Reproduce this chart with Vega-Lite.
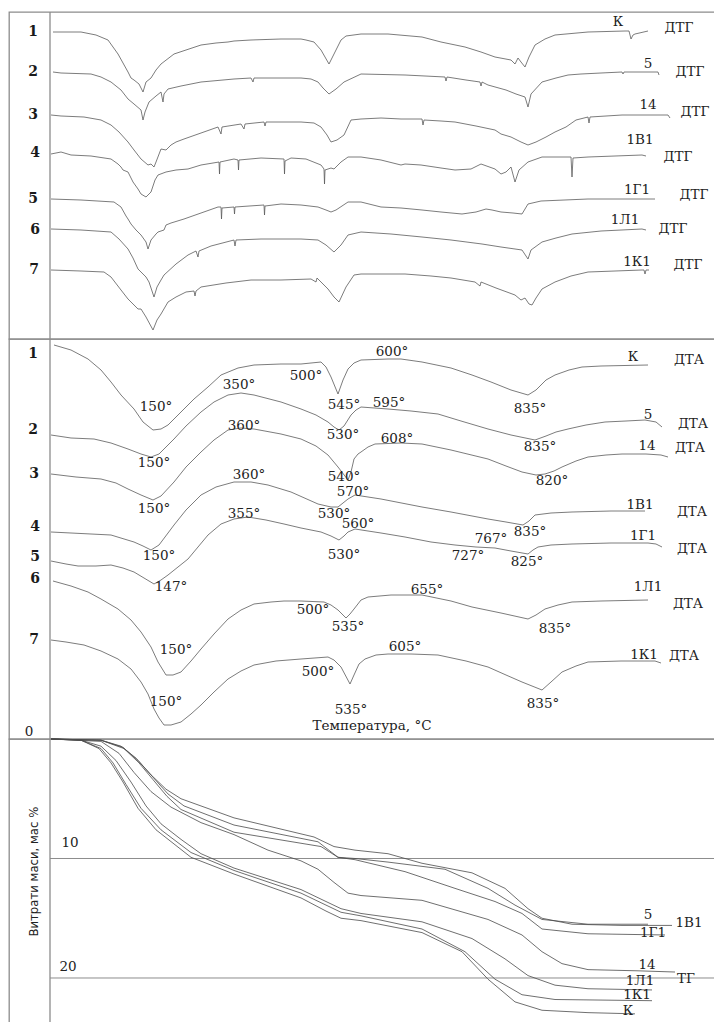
{
  "$schema": "https://vega.github.io/schema/vega-lite/v6.json",
  "padding": {"left": 8, "top": 10, "right": 0, "bottom": 0},
  "spacing": 0,
  "bounds": "flush",
  "background": "white",
  "config": {"view": {"stroke": "#8c8c8c", "strokeWidth": 1.3}},
  "datasets": {
    "dtg": [
      {"s":"1","x":52,"y":30},{"s":"1","x":80,"y":30},{"s":"1","x":95,"y":33},{"s":"1","x":107,"y":38},{"s":"1","x":117,"y":52},{"s":"1","x":127,"y":70},{"s":"1","x":130,"y":76},{"s":"1","x":133,"y":78},{"s":"1","x":138,"y":82},{"s":"1","x":142,"y":90},{"s":"1","x":145,"y":80},{"s":"1","x":150,"y":76},{"s":"1","x":155,"y":68},{"s":"1","x":160,"y":62},{"s":"1","x":173,"y":52},{"s":"1","x":185,"y":48},{"s":"1","x":200,"y":43},{"s":"1","x":215,"y":41},{"s":"1","x":227,"y":40},{"s":"1","x":233,"y":39},{"s":"1","x":250,"y":38},{"s":"1","x":280,"y":37},{"s":"1","x":300,"y":37},{"s":"1","x":305,"y":38},{"s":"1","x":313,"y":40},{"s":"1","x":320,"y":48},{"s":"1","x":328,"y":62},{"s":"1","x":333,"y":52},{"s":"1","x":340,"y":38},{"s":"1","x":345,"y":34},{"s":"1","x":360,"y":32},{"s":"1","x":387,"y":32},{"s":"1","x":421,"y":35},{"s":"1","x":440,"y":40},{"s":"1","x":464,"y":45},{"s":"1","x":480,"y":50},{"s":"1","x":494,"y":55},{"s":"1","x":510,"y":58},{"s":"1","x":514,"y":62},{"s":"1","x":517,"y":56},{"s":"1","x":520,"y":60},{"s":"1","x":524,"y":65},{"s":"1","x":528,"y":55},{"s":"1","x":534,"y":43},{"s":"1","x":544,"y":37},{"s":"1","x":554,"y":33},{"s":"1","x":587,"y":30},{"s":"1","x":624,"y":29},{"s":"1","x":628,"y":29},{"s":"1","x":630,"y":37},{"s":"1","x":632,"y":33},{"s":"1","x":634,"y":32},{"s":"1","x":647,"y":29},
      {"s":"2","x":52,"y":70},{"s":"2","x":60,"y":71},{"s":"2","x":90,"y":72},{"s":"2","x":100,"y":75},{"s":"2","x":110,"y":80},{"s":"2","x":120,"y":88},{"s":"2","x":127,"y":97},{"s":"2","x":133,"y":102},{"s":"2","x":140,"y":108},{"s":"2","x":142,"y":118},{"s":"2","x":144,"y":110},{"s":"2","x":148,"y":100},{"s":"2","x":155,"y":94},{"s":"2","x":160,"y":90},{"s":"2","x":162,"y":100},{"s":"2","x":163,"y":92},{"s":"2","x":167,"y":87},{"s":"2","x":180,"y":84},{"s":"2","x":200,"y":80},{"s":"2","x":233,"y":77},{"s":"2","x":250,"y":76},{"s":"2","x":252,"y":80},{"s":"2","x":253,"y":76},{"s":"2","x":300,"y":76},{"s":"2","x":310,"y":77},{"s":"2","x":317,"y":80},{"s":"2","x":322,"y":86},{"s":"2","x":328,"y":92},{"s":"2","x":335,"y":87},{"s":"2","x":343,"y":80},{"s":"2","x":360,"y":72},{"s":"2","x":404,"y":73},{"s":"2","x":444,"y":75},{"s":"2","x":445,"y":79},{"s":"2","x":446,"y":75},{"s":"2","x":465,"y":78},{"s":"2","x":479,"y":80},{"s":"2","x":480,"y":84},{"s":"2","x":481,"y":80},{"s":"2","x":487,"y":83},{"s":"2","x":505,"y":88},{"s":"2","x":515,"y":92},{"s":"2","x":524,"y":95},{"s":"2","x":527,"y":105},{"s":"2","x":530,"y":92},{"s":"2","x":541,"y":80},{"s":"2","x":555,"y":76},{"s":"2","x":567,"y":73},{"s":"2","x":580,"y":72},{"s":"2","x":600,"y":71},{"s":"2","x":621,"y":70},{"s":"2","x":622,"y":72},{"s":"2","x":623,"y":70},{"s":"2","x":657,"y":70},{"s":"2","x":658,"y":73},
      {"s":"3","x":50,"y":113},{"s":"3","x":60,"y":114},{"s":"3","x":83,"y":115},{"s":"3","x":100,"y":118},{"s":"3","x":110,"y":123},{"s":"3","x":118,"y":130},{"s":"3","x":127,"y":140},{"s":"3","x":133,"y":148},{"s":"3","x":140,"y":157},{"s":"3","x":147,"y":163},{"s":"3","x":150,"y":162},{"s":"3","x":153,"y":165},{"s":"3","x":155,"y":160},{"s":"3","x":160,"y":147},{"s":"3","x":165,"y":148},{"s":"3","x":170,"y":143},{"s":"3","x":175,"y":140},{"s":"3","x":183,"y":137},{"s":"3","x":200,"y":131},{"s":"3","x":217,"y":125},{"s":"3","x":220,"y":132},{"s":"3","x":221,"y":125},{"s":"3","x":240,"y":122},{"s":"3","x":243,"y":127},{"s":"3","x":244,"y":122},{"s":"3","x":263,"y":120},{"s":"3","x":264,"y":124},{"s":"3","x":265,"y":120},{"s":"3","x":300,"y":120},{"s":"3","x":313,"y":121},{"s":"3","x":320,"y":125},{"s":"3","x":326,"y":133},{"s":"3","x":330,"y":140},{"s":"3","x":336,"y":138},{"s":"3","x":343,"y":133},{"s":"3","x":350,"y":118},{"s":"3","x":360,"y":117},{"s":"3","x":380,"y":116},{"s":"3","x":400,"y":117},{"s":"3","x":421,"y":117},{"s":"3","x":422,"y":123},{"s":"3","x":423,"y":118},{"s":"3","x":440,"y":119},{"s":"3","x":454,"y":120},{"s":"3","x":475,"y":124},{"s":"3","x":494,"y":128},{"s":"3","x":500,"y":132},{"s":"3","x":510,"y":135},{"s":"3","x":520,"y":140},{"s":"3","x":527,"y":143},{"s":"3","x":535,"y":140},{"s":"3","x":545,"y":135},{"s":"3","x":554,"y":130},{"s":"3","x":565,"y":125},{"s":"3","x":575,"y":118},{"s":"3","x":587,"y":115},{"s":"3","x":588,"y":121},{"s":"3","x":589,"y":115},{"s":"3","x":621,"y":113},{"s":"3","x":667,"y":113},{"s":"3","x":669,"y":116},
      {"s":"4","x":50,"y":152},{"s":"4","x":60,"y":150},{"s":"4","x":70,"y":153},{"s":"4","x":90,"y":154},{"s":"4","x":110,"y":157},{"s":"4","x":117,"y":162},{"s":"4","x":120,"y":165},{"s":"4","x":122,"y":168},{"s":"4","x":127,"y":170},{"s":"4","x":132,"y":180},{"s":"4","x":137,"y":187},{"s":"4","x":140,"y":192},{"s":"4","x":145,"y":195},{"s":"4","x":148,"y":192},{"s":"4","x":150,"y":190},{"s":"4","x":154,"y":178},{"s":"4","x":157,"y":173},{"s":"4","x":165,"y":170},{"s":"4","x":175,"y":168},{"s":"4","x":187,"y":167},{"s":"4","x":200,"y":163},{"s":"4","x":218,"y":160},{"s":"4","x":218.5,"y":172},{"s":"4","x":219,"y":160},{"s":"4","x":233,"y":157},{"s":"4","x":237,"y":158},{"s":"4","x":237.5,"y":168},{"s":"4","x":238,"y":158},{"s":"4","x":260,"y":156},{"s":"4","x":283,"y":157},{"s":"4","x":283.5,"y":172},{"s":"4","x":284,"y":159},{"s":"4","x":290,"y":156},{"s":"4","x":305,"y":157},{"s":"4","x":320,"y":163},{"s":"4","x":323,"y":167},{"s":"4","x":323.5,"y":182},{"s":"4","x":324,"y":168},{"s":"4","x":330,"y":166},{"s":"4","x":333,"y":167},{"s":"4","x":340,"y":160},{"s":"4","x":347,"y":155},{"s":"4","x":360,"y":155},{"s":"4","x":380,"y":158},{"s":"4","x":400,"y":163},{"s":"4","x":404,"y":162},{"s":"4","x":420,"y":163},{"s":"4","x":440,"y":166},{"s":"4","x":454,"y":168},{"s":"4","x":470,"y":167},{"s":"4","x":480,"y":162},{"s":"4","x":494,"y":167},{"s":"4","x":500,"y":172},{"s":"4","x":505,"y":170},{"s":"4","x":510,"y":165},{"s":"4","x":514,"y":180},{"s":"4","x":518,"y":168},{"s":"4","x":527,"y":160},{"s":"4","x":541,"y":155},{"s":"4","x":570,"y":155},{"s":"4","x":571,"y":175},{"s":"4","x":572,"y":156},{"s":"4","x":587,"y":155},{"s":"4","x":641,"y":153},{"s":"4","x":645,"y":154},
      {"s":"5","x":50,"y":197},{"s":"5","x":80,"y":198},{"s":"5","x":113,"y":200},{"s":"5","x":120,"y":205},{"s":"5","x":125,"y":214},{"s":"5","x":127,"y":217},{"s":"5","x":130,"y":222},{"s":"5","x":135,"y":228},{"s":"5","x":140,"y":233},{"s":"5","x":145,"y":240},{"s":"5","x":147,"y":247},{"s":"5","x":150,"y":238},{"s":"5","x":155,"y":232},{"s":"5","x":157,"y":230},{"s":"5","x":163,"y":228},{"s":"5","x":165,"y":223},{"s":"5","x":170,"y":221},{"s":"5","x":183,"y":217},{"s":"5","x":200,"y":211},{"s":"5","x":217,"y":205},{"s":"5","x":220,"y":205},{"s":"5","x":220.5,"y":217},{"s":"5","x":221,"y":206},{"s":"5","x":233,"y":205},{"s":"5","x":233.5,"y":212},{"s":"5","x":234,"y":205},{"s":"5","x":263,"y":203},{"s":"5","x":263.5,"y":213},{"s":"5","x":264,"y":204},{"s":"5","x":280,"y":202},{"s":"5","x":300,"y":203},{"s":"5","x":317,"y":205},{"s":"5","x":325,"y":208},{"s":"5","x":330,"y":210},{"s":"5","x":335,"y":208},{"s":"5","x":347,"y":200},{"s":"5","x":360,"y":200},{"s":"5","x":380,"y":205},{"s":"5","x":400,"y":206},{"s":"5","x":421,"y":208},{"s":"5","x":440,"y":210},{"s":"5","x":461,"y":212},{"s":"5","x":475,"y":210},{"s":"5","x":485,"y":207},{"s":"5","x":491,"y":208},{"s":"5","x":500,"y":210},{"s":"5","x":512,"y":211},{"s":"5","x":521,"y":212},{"s":"5","x":527,"y":202},{"s":"5","x":540,"y":199},{"s":"5","x":587,"y":197},{"s":"5","x":654,"y":197},
      {"s":"6","x":50,"y":227},{"s":"6","x":80,"y":228},{"s":"6","x":110,"y":230},{"s":"6","x":118,"y":237},{"s":"6","x":127,"y":247},{"s":"6","x":132,"y":256},{"s":"6","x":137,"y":267},{"s":"6","x":140,"y":270},{"s":"6","x":145,"y":275},{"s":"6","x":148,"y":280},{"s":"6","x":153,"y":295},{"s":"6","x":156,"y":285},{"s":"6","x":160,"y":278},{"s":"6","x":163,"y":273},{"s":"6","x":175,"y":262},{"s":"6","x":187,"y":253},{"s":"6","x":195,"y":249},{"s":"6","x":197,"y":255},{"s":"6","x":198,"y":249},{"s":"6","x":210,"y":244},{"s":"6","x":233,"y":238},{"s":"6","x":234,"y":244},{"s":"6","x":235,"y":238},{"s":"6","x":260,"y":237},{"s":"6","x":283,"y":237},{"s":"6","x":300,"y":237},{"s":"6","x":317,"y":238},{"s":"6","x":325,"y":243},{"s":"6","x":333,"y":250},{"s":"6","x":340,"y":243},{"s":"6","x":347,"y":233},{"s":"6","x":360,"y":230},{"s":"6","x":390,"y":232},{"s":"6","x":421,"y":235},{"s":"6","x":450,"y":238},{"s":"6","x":481,"y":242},{"s":"6","x":500,"y":245},{"s":"6","x":521,"y":248},{"s":"6","x":527,"y":257},{"s":"6","x":530,"y":248},{"s":"6","x":541,"y":240},{"s":"6","x":555,"y":236},{"s":"6","x":571,"y":232},{"s":"6","x":600,"y":229},{"s":"6","x":641,"y":227},{"s":"6","x":645,"y":228},
      {"s":"7","x":50,"y":268},{"s":"7","x":80,"y":269},{"s":"7","x":103,"y":270},{"s":"7","x":110,"y":275},{"s":"7","x":120,"y":288},{"s":"7","x":127,"y":297},{"s":"7","x":137,"y":307},{"s":"7","x":140,"y":307},{"s":"7","x":145,"y":315},{"s":"7","x":152,"y":328},{"s":"7","x":156,"y":318},{"s":"7","x":160,"y":312},{"s":"7","x":167,"y":300},{"s":"7","x":175,"y":295},{"s":"7","x":185,"y":290},{"s":"7","x":193,"y":289},{"s":"7","x":194,"y":294},{"s":"7","x":195,"y":289},{"s":"7","x":200,"y":285},{"s":"7","x":225,"y":281},{"s":"7","x":250,"y":278},{"s":"7","x":280,"y":278},{"s":"7","x":310,"y":277},{"s":"7","x":315,"y":280},{"s":"7","x":316,"y":276},{"s":"7","x":320,"y":280},{"s":"7","x":327,"y":287},{"s":"7","x":333,"y":295},{"s":"7","x":338,"y":300},{"s":"7","x":345,"y":285},{"s":"7","x":353,"y":273},{"s":"7","x":360,"y":272},{"s":"7","x":404,"y":272},{"s":"7","x":430,"y":274},{"s":"7","x":450,"y":276},{"s":"7","x":474,"y":280},{"s":"7","x":479,"y":284},{"s":"7","x":480,"y":280},{"s":"7","x":495,"y":286},{"s":"7","x":514,"y":293},{"s":"7","x":520,"y":298},{"s":"7","x":524,"y":296},{"s":"7","x":528,"y":302},{"s":"7","x":531,"y":303},{"s":"7","x":535,"y":296},{"s":"7","x":541,"y":287},{"s":"7","x":554,"y":280},{"s":"7","x":570,"y":274},{"s":"7","x":587,"y":270},{"s":"7","x":641,"y":268},{"s":"7","x":643,"y":268},{"s":"7","x":644,"y":272},{"s":"7","x":645,"y":268},{"s":"7","x":648,"y":268}
    ],
    "dta": [
      {"s":"1","x":53,"y":343},{"s":"1","x":70,"y":348},{"s":"1","x":87,"y":357},{"s":"1","x":100,"y":368},{"s":"1","x":110,"y":380},{"s":"1","x":120,"y":393},{"s":"1","x":133,"y":407},{"s":"1","x":142,"y":420},{"s":"1","x":152,"y":428},{"s":"1","x":160,"y":427},{"s":"1","x":167,"y":423},{"s":"1","x":180,"y":410},{"s":"1","x":193,"y":397},{"s":"1","x":207,"y":385},{"s":"1","x":220,"y":373},{"s":"1","x":237,"y":366},{"s":"1","x":253,"y":363},{"s":"1","x":280,"y":362},{"s":"1","x":300,"y":362},{"s":"1","x":320,"y":360},{"s":"1","x":325,"y":365},{"s":"1","x":330,"y":375},{"s":"1","x":337,"y":392},{"s":"1","x":342,"y":378},{"s":"1","x":347,"y":367},{"s":"1","x":353,"y":361},{"s":"1","x":360,"y":358},{"s":"1","x":387,"y":357},{"s":"1","x":400,"y":357},{"s":"1","x":421,"y":360},{"s":"1","x":450,"y":366},{"s":"1","x":471,"y":373},{"s":"1","x":490,"y":380},{"s":"1","x":510,"y":388},{"s":"1","x":527,"y":393},{"s":"1","x":535,"y":388},{"s":"1","x":545,"y":378},{"s":"1","x":554,"y":373},{"s":"1","x":568,"y":368},{"s":"1","x":581,"y":365},{"s":"1","x":600,"y":364},{"s":"1","x":647,"y":363},
      {"s":"2","x":50,"y":433},{"s":"2","x":70,"y":436},{"s":"2","x":93,"y":437},{"s":"2","x":110,"y":441},{"s":"2","x":127,"y":447},{"s":"2","x":140,"y":452},{"s":"2","x":150,"y":455},{"s":"2","x":158,"y":452},{"s":"2","x":165,"y":445},{"s":"2","x":173,"y":437},{"s":"2","x":185,"y":424},{"s":"2","x":200,"y":410},{"s":"2","x":213,"y":400},{"s":"2","x":227,"y":393},{"s":"2","x":240,"y":391},{"s":"2","x":253,"y":393},{"s":"2","x":280,"y":400},{"s":"2","x":300,"y":407},{"s":"2","x":315,"y":413},{"s":"2","x":327,"y":420},{"s":"2","x":333,"y":425},{"s":"2","x":338,"y":428},{"s":"2","x":343,"y":424},{"s":"2","x":350,"y":413},{"s":"2","x":355,"y":408},{"s":"2","x":360,"y":405},{"s":"2","x":387,"y":407},{"s":"2","x":410,"y":409},{"s":"2","x":437,"y":412},{"s":"2","x":460,"y":419},{"s":"2","x":487,"y":427},{"s":"2","x":510,"y":433},{"s":"2","x":534,"y":438},{"s":"2","x":545,"y":434},{"s":"2","x":555,"y":430},{"s":"2","x":567,"y":427},{"s":"2","x":585,"y":423},{"s":"2","x":604,"y":420},{"s":"2","x":625,"y":419},{"s":"2","x":644,"y":418},{"s":"2","x":655,"y":420},{"s":"2","x":661,"y":425},
      {"s":"3","x":50,"y":472},{"s":"3","x":75,"y":475},{"s":"3","x":100,"y":477},{"s":"3","x":115,"y":481},{"s":"3","x":127,"y":487},{"s":"3","x":140,"y":493},{"s":"3","x":152,"y":498},{"s":"3","x":160,"y":494},{"s":"3","x":173,"y":480},{"s":"3","x":185,"y":465},{"s":"3","x":200,"y":450},{"s":"3","x":213,"y":438},{"s":"3","x":227,"y":428},{"s":"3","x":240,"y":426},{"s":"3","x":253,"y":427},{"s":"3","x":280,"y":432},{"s":"3","x":300,"y":437},{"s":"3","x":315,"y":444},{"s":"3","x":327,"y":453},{"s":"3","x":337,"y":465},{"s":"3","x":347,"y":478},{"s":"3","x":350,"y":470},{"s":"3","x":353,"y":457},{"s":"3","x":357,"y":452},{"s":"3","x":360,"y":450},{"s":"3","x":367,"y":445},{"s":"3","x":374,"y":442},{"s":"3","x":400,"y":441},{"s":"3","x":421,"y":442},{"s":"3","x":450,"y":448},{"s":"3","x":487,"y":457},{"s":"3","x":505,"y":464},{"s":"3","x":521,"y":470},{"s":"3","x":535,"y":473},{"s":"3","x":544,"y":472},{"s":"3","x":553,"y":469},{"s":"3","x":561,"y":465},{"s":"3","x":575,"y":459},{"s":"3","x":587,"y":455},{"s":"3","x":605,"y":453},{"s":"3","x":621,"y":452},{"s":"3","x":645,"y":452},{"s":"3","x":660,"y":453},{"s":"3","x":667,"y":455},
      {"s":"4","x":50,"y":530},{"s":"4","x":70,"y":531},{"s":"4","x":90,"y":532},{"s":"4","x":110,"y":533},{"s":"4","x":133,"y":540},{"s":"4","x":142,"y":544},{"s":"4","x":150,"y":548},{"s":"4","x":158,"y":543},{"s":"4","x":173,"y":523},{"s":"4","x":185,"y":508},{"s":"4","x":200,"y":493},{"s":"4","x":215,"y":485},{"s":"4","x":233,"y":480},{"s":"4","x":250,"y":480},{"s":"4","x":267,"y":483},{"s":"4","x":290,"y":490},{"s":"4","x":317,"y":502},{"s":"4","x":330,"y":505},{"s":"4","x":337,"y":505},{"s":"4","x":342,"y":501},{"s":"4","x":347,"y":497},{"s":"4","x":354,"y":493},{"s":"4","x":380,"y":497},{"s":"4","x":421,"y":505},{"s":"4","x":450,"y":510},{"s":"4","x":487,"y":517},{"s":"4","x":505,"y":520},{"s":"4","x":522,"y":523},{"s":"4","x":528,"y":519},{"s":"4","x":534,"y":513},{"s":"4","x":550,"y":511},{"s":"4","x":571,"y":510},{"s":"4","x":610,"y":509},{"s":"4","x":644,"y":509},
      {"s":"5","x":50,"y":559},{"s":"5","x":65,"y":562},{"s":"5","x":77,"y":564},{"s":"5","x":95,"y":564},{"s":"5","x":110,"y":563},{"s":"5","x":122,"y":566},{"s":"5","x":133,"y":570},{"s":"5","x":143,"y":576},{"s":"5","x":153,"y":582},{"s":"5","x":160,"y":578},{"s":"5","x":167,"y":573},{"s":"5","x":177,"y":565},{"s":"5","x":187,"y":557},{"s":"5","x":197,"y":545},{"s":"5","x":207,"y":533},{"s":"5","x":220,"y":522},{"s":"5","x":233,"y":517},{"s":"5","x":247,"y":515},{"s":"5","x":265,"y":518},{"s":"5","x":283,"y":522},{"s":"5","x":300,"y":526},{"s":"5","x":320,"y":530},{"s":"5","x":330,"y":534},{"s":"5","x":338,"y":538},{"s":"5","x":343,"y":534},{"s":"5","x":347,"y":530},{"s":"5","x":354,"y":527},{"s":"5","x":380,"y":531},{"s":"5","x":404,"y":535},{"s":"5","x":430,"y":540},{"s":"5","x":454,"y":543},{"s":"5","x":475,"y":545},{"s":"5","x":494,"y":546},{"s":"5","x":510,"y":549},{"s":"5","x":527,"y":552},{"s":"5","x":532,"y":548},{"s":"5","x":537,"y":545},{"s":"5","x":550,"y":543},{"s":"5","x":571,"y":542},{"s":"5","x":610,"y":541},{"s":"5","x":647,"y":541},{"s":"5","x":655,"y":542},{"s":"5","x":661,"y":545},
      {"s":"6","x":52,"y":579},{"s":"6","x":70,"y":584},{"s":"6","x":87,"y":590},{"s":"6","x":100,"y":597},{"s":"6","x":117,"y":607},{"s":"6","x":130,"y":618},{"s":"6","x":140,"y":630},{"s":"6","x":150,"y":645},{"s":"6","x":157,"y":660},{"s":"6","x":165,"y":673},{"s":"6","x":172,"y":673},{"s":"6","x":180,"y":670},{"s":"6","x":190,"y":659},{"s":"6","x":200,"y":647},{"s":"6","x":213,"y":632},{"s":"6","x":227,"y":617},{"s":"6","x":240,"y":608},{"s":"6","x":253,"y":602},{"s":"6","x":270,"y":600},{"s":"6","x":283,"y":599},{"s":"6","x":300,"y":599},{"s":"6","x":323,"y":600},{"s":"6","x":330,"y":603},{"s":"6","x":337,"y":608},{"s":"6","x":345,"y":616},{"s":"6","x":349,"y":612},{"s":"6","x":353,"y":607},{"s":"6","x":360,"y":598},{"s":"6","x":367,"y":595},{"s":"6","x":390,"y":593},{"s":"6","x":421,"y":593},{"s":"6","x":450,"y":599},{"s":"6","x":471,"y":605},{"s":"6","x":500,"y":611},{"s":"6","x":527,"y":617},{"s":"6","x":535,"y":613},{"s":"6","x":544,"y":607},{"s":"6","x":557,"y":603},{"s":"6","x":571,"y":600},{"s":"6","x":600,"y":599},{"s":"6","x":647,"y":598},
      {"s":"7","x":50,"y":638},{"s":"7","x":65,"y":640},{"s":"7","x":83,"y":643},{"s":"7","x":100,"y":649},{"s":"7","x":117,"y":657},{"s":"7","x":130,"y":667},{"s":"7","x":140,"y":680},{"s":"7","x":147,"y":692},{"s":"7","x":153,"y":707},{"s":"7","x":158,"y":716},{"s":"7","x":163,"y":723},{"s":"7","x":170,"y":723},{"s":"7","x":180,"y":720},{"s":"7","x":190,"y":712},{"s":"7","x":200,"y":703},{"s":"7","x":213,"y":690},{"s":"7","x":227,"y":677},{"s":"7","x":240,"y":669},{"s":"7","x":253,"y":663},{"s":"7","x":275,"y":659},{"s":"7","x":300,"y":657},{"s":"7","x":327,"y":655},{"s":"7","x":333,"y":658},{"s":"7","x":340,"y":665},{"s":"7","x":349,"y":682},{"s":"7","x":353,"y":673},{"s":"7","x":358,"y":662},{"s":"7","x":364,"y":657},{"s":"7","x":375,"y":653},{"s":"7","x":387,"y":652},{"s":"7","x":410,"y":652},{"s":"7","x":437,"y":653},{"s":"7","x":465,"y":659},{"s":"7","x":487,"y":665},{"s":"7","x":505,"y":673},{"s":"7","x":521,"y":680},{"s":"7","x":541,"y":688},{"s":"7","x":550,"y":680},{"s":"7","x":561,"y":670},{"s":"7","x":575,"y":664},{"s":"7","x":587,"y":660},{"s":"7","x":620,"y":659},{"s":"7","x":654,"y":659},{"s":"7","x":660,"y":661}
    ],
    "tg": [
      {"s":"1В1","x":50,"p":0},{"s":"1В1","x":100,"p":0.1},{"s":"1В1","x":120,"p":0.6},{"s":"1В1","x":135,"p":1.6},{"s":"1В1","x":150,"p":3.0},{"s":"1В1","x":165,"p":4.2},{"s":"1В1","x":180,"p":5.0},{"s":"1В1","x":233,"p":6.6},{"s":"1В1","x":313,"p":8.2},{"s":"1В1","x":333,"p":9.0},{"s":"1В1","x":354,"p":9.3},{"s":"1В1","x":387,"p":9.6},{"s":"1В1","x":421,"p":10.4},{"s":"1В1","x":471,"p":11.2},{"s":"1В1","x":504,"p":12.5},{"s":"1В1","x":527,"p":14.2},{"s":"1В1","x":541,"p":15.0},{"s":"1В1","x":571,"p":15.5},{"s":"1В1","x":621,"p":15.6},{"s":"1В1","x":671,"p":15.6},
      {"s":"5","x":50,"p":0},{"s":"5","x":100,"p":0.1},{"s":"5","x":122,"p":0.7},{"s":"5","x":137,"p":1.8},{"s":"5","x":152,"p":3.2},{"s":"5","x":167,"p":4.6},{"s":"5","x":183,"p":5.6},{"s":"5","x":233,"p":7.2},{"s":"5","x":317,"p":8.6},{"s":"5","x":337,"p":9.9},{"s":"5","x":354,"p":10.0},{"s":"5","x":387,"p":10.3},{"s":"5","x":444,"p":10.9},{"s":"5","x":487,"p":12.5},{"s":"5","x":514,"p":13.9},{"s":"5","x":541,"p":15.1},{"s":"5","x":587,"p":15.5},{"s":"5","x":647,"p":15.5},
      {"s":"1Г1","x":50,"p":0},{"s":"1Г1","x":100,"p":0.1},{"s":"1Г1","x":123,"p":0.8},{"s":"1Г1","x":138,"p":2.0},{"s":"1Г1","x":152,"p":3.4},{"s":"1Г1","x":166,"p":4.8},{"s":"1Г1","x":180,"p":5.9},{"s":"1Г1","x":233,"p":7.8},{"s":"1Г1","x":320,"p":9.0},{"s":"1Г1","x":337,"p":9.9},{"s":"1Г1","x":354,"p":10.1},{"s":"1Г1","x":404,"p":11.1},{"s":"1Г1","x":454,"p":12.5},{"s":"1Г1","x":494,"p":13.6},{"s":"1Г1","x":521,"p":14.6},{"s":"1Г1","x":541,"p":15.9},{"s":"1Г1","x":587,"p":16.3},{"s":"1Г1","x":664,"p":16.4},
      {"s":"14","x":50,"p":0},{"s":"14","x":100,"p":0.2},{"s":"14","x":118,"p":1.2},{"s":"14","x":133,"p":2.8},{"s":"14","x":150,"p":4.4},{"s":"14","x":170,"p":5.7},{"s":"14","x":200,"p":7.0},{"s":"14","x":233,"p":8.0},{"s":"14","x":267,"p":9.3},{"s":"14","x":300,"p":10.2},{"s":"14","x":317,"p":10.9},{"s":"14","x":333,"p":12.0},{"s":"14","x":347,"p":12.9},{"s":"14","x":360,"p":13.1},{"s":"14","x":421,"p":13.5},{"s":"14","x":487,"p":15.1},{"s":"14","x":521,"p":16.4},{"s":"14","x":541,"p":17.8},{"s":"14","x":561,"p":18.8},{"s":"14","x":587,"p":19.3},{"s":"14","x":637,"p":19.4},{"s":"14","x":674,"p":19.5},
      {"s":"1Л1","x":50,"p":0},{"s":"1Л1","x":80,"p":0.1},{"s":"1Л1","x":100,"p":0.6},{"s":"1Л1","x":115,"p":1.8},{"s":"1Л1","x":130,"p":3.6},{"s":"1Л1","x":145,"p":5.6},{"s":"1Л1","x":160,"p":7.1},{"s":"1Л1","x":180,"p":8.4},{"s":"1Л1","x":200,"p":9.6},{"s":"1Л1","x":233,"p":10.8},{"s":"1Л1","x":300,"p":12.6},{"s":"1Л1","x":320,"p":13.4},{"s":"1Л1","x":340,"p":14.2},{"s":"1Л1","x":360,"p":14.6},{"s":"1Л1","x":421,"p":15.3},{"s":"1Л1","x":471,"p":16.7},{"s":"1Л1","x":504,"p":18.4},{"s":"1Л1","x":527,"p":19.8},{"s":"1Л1","x":554,"p":20.6},{"s":"1Л1","x":587,"p":20.9},{"s":"1Л1","x":651,"p":21.0},
      {"s":"1К1","x":50,"p":0},{"s":"1К1","x":80,"p":0.1},{"s":"1К1","x":100,"p":0.8},{"s":"1К1","x":112,"p":2.0},{"s":"1К1","x":125,"p":3.8},{"s":"1К1","x":140,"p":5.8},{"s":"1К1","x":160,"p":7.6},{"s":"1К1","x":190,"p":9.5},{"s":"1К1","x":233,"p":11.0},{"s":"1К1","x":300,"p":12.9},{"s":"1К1","x":325,"p":13.9},{"s":"1К1","x":340,"p":14.5},{"s":"1К1","x":360,"p":14.8},{"s":"1К1","x":421,"p":15.9},{"s":"1К1","x":464,"p":17.8},{"s":"1К1","x":494,"p":20.1},{"s":"1К1","x":521,"p":21.4},{"s":"1К1","x":554,"p":21.8},{"s":"1К1","x":651,"p":21.9},
      {"s":"К","x":50,"p":0},{"s":"К","x":80,"p":0.1},{"s":"К","x":98,"p":0.8},{"s":"К","x":110,"p":2.0},{"s":"К","x":122,"p":3.6},{"s":"К","x":137,"p":5.8},{"s":"К","x":155,"p":7.6},{"s":"К","x":190,"p":9.9},{"s":"К","x":233,"p":11.3},{"s":"К","x":300,"p":13.3},{"s":"К","x":325,"p":14.4},{"s":"К","x":340,"p":15.0},{"s":"К","x":360,"p":15.2},{"s":"К","x":421,"p":16.2},{"s":"К","x":461,"p":17.8},{"s":"К","x":487,"p":20.1},{"s":"К","x":514,"p":22.0},{"s":"К","x":541,"p":22.7},{"s":"К","x":587,"p":22.9},{"s":"К","x":634,"p":23.0}
    ],
    "ldtg": [
      {"k":"n","t":"1","x":32,"y":30},{"k":"n","t":"2","x":32,"y":70},{"k":"n","t":"3","x":32,"y":113},{"k":"n","t":"4","x":34,"y":151},{"k":"n","t":"5","x":32,"y":197},{"k":"n","t":"6","x":34,"y":228},{"k":"n","t":"7","x":33,"y":268},
      {"k":"t","t":"К","x":617,"y":20},{"k":"t","t":"ДТГ","x":678,"y":26},
      {"k":"t","t":"5","x":647,"y":62},{"k":"t","t":"ДТГ","x":689,"y":70},
      {"k":"t","t":"14","x":647,"y":103},{"k":"t","t":"ДТГ","x":694,"y":110},
      {"k":"t","t":"1В1","x":639,"y":138},{"k":"t","t":"ДТГ","x":677,"y":155},
      {"k":"t","t":"1Г1","x":636,"y":188},{"k":"t","t":"ДТГ","x":693,"y":193},
      {"k":"t","t":"1Л1","x":624,"y":218},{"k":"t","t":"ДТГ","x":672,"y":227},
      {"k":"t","t":"1К1","x":636,"y":260},{"k":"t","t":"ДТГ","x":687,"y":263}
    ],
    "ldta": [
      {"k":"n","t":"1","x":32,"y":352},{"k":"n","t":"2","x":32,"y":428},{"k":"n","t":"3","x":33,"y":472},{"k":"n","t":"4","x":34,"y":525},{"k":"n","t":"5","x":34,"y":555},{"k":"n","t":"6","x":34,"y":577},{"k":"n","t":"7","x":33,"y":638},{"k":"t","t":"0","x":28,"y":730},
      {"k":"t","t":"150°","x":155,"y":405},{"k":"t","t":"500°","x":305,"y":374},{"k":"t","t":"545°","x":343,"y":403},{"k":"t","t":"600°","x":391,"y":350},{"k":"t","t":"835°","x":529,"y":407},{"k":"t","t":"К","x":632,"y":355},{"k":"t","t":"ДТА","x":688,"y":358},
      {"k":"t","t":"350°","x":238,"y":383},{"k":"t","t":"150°","x":153,"y":461},{"k":"t","t":"530°","x":342,"y":433},{"k":"t","t":"595°","x":388,"y":401},{"k":"t","t":"835°","x":539,"y":445},{"k":"t","t":"5","x":647,"y":413},{"k":"t","t":"ДТА","x":692,"y":422},
      {"k":"t","t":"360°","x":243,"y":424},{"k":"t","t":"150°","x":153,"y":507},{"k":"t","t":"540°","x":343,"y":475},{"k":"t","t":"608°","x":396,"y":437},{"k":"t","t":"820°","x":551,"y":479},{"k":"t","t":"14","x":646,"y":444},{"k":"t","t":"ДТА","x":689,"y":446},
      {"k":"t","t":"360°","x":248,"y":473},{"k":"t","t":"570°","x":352,"y":490},{"k":"t","t":"530°","x":333,"y":512},{"k":"t","t":"150°","x":158,"y":554},{"k":"t","t":"835°","x":529,"y":530},{"k":"t","t":"1В1","x":639,"y":503},{"k":"t","t":"ДТА","x":691,"y":510},
      {"k":"t","t":"355°","x":243,"y":512},{"k":"t","t":"560°","x":357,"y":522},{"k":"t","t":"530°","x":343,"y":553},{"k":"t","t":"147°","x":170,"y":585},{"k":"t","t":"727°","x":467,"y":554},{"k":"t","t":"767°","x":490,"y":537},{"k":"t","t":"825°","x":526,"y":560},{"k":"t","t":"1Г1","x":642,"y":534},{"k":"t","t":"ДТА","x":691,"y":547},
      {"k":"t","t":"150°","x":175,"y":648},{"k":"t","t":"500°","x":312,"y":608},{"k":"t","t":"535°","x":347,"y":625},{"k":"t","t":"655°","x":426,"y":588},{"k":"t","t":"835°","x":554,"y":627},{"k":"t","t":"1Л1","x":647,"y":585},{"k":"t","t":"ДТА","x":687,"y":602},
      {"k":"t","t":"150°","x":165,"y":700},{"k":"t","t":"500°","x":317,"y":670},{"k":"t","t":"535°","x":350,"y":708},{"k":"t","t":"605°","x":404,"y":645},{"k":"t","t":"835°","x":542,"y":702},{"k":"t","t":"1К1","x":643,"y":653},{"k":"t","t":"ДТА","x":683,"y":654},
      {"k":"t","t":"Температура, °С","x":371,"y":724}
    ],
    "ltg": [
      {"t":"5","x":647,"p":14.7},{"t":"1В1","x":688,"p":15.4},{"t":"1Г1","x":652,"p":16.2},{"t":"14","x":646,"p":18.9},{"t":"ТГ","x":685,"p":20.1},{"t":"1Л1","x":639,"p":20.25},{"t":"1К1","x":636,"p":21.45},{"t":"К","x":627,"p":22.8},{"t":"10","x":69,"p":8.7},{"t":"20","x":67,"p":19.1}
    ]
  },
  "vconcat": [
    {
      "width": 706, "height": 327,
      "layer": [
        {"data": {"name": "dtg"}, "mark": {"type": "line", "stroke": "#5a5a5a", "strokeWidth": 0.8},
         "encoding": {
           "x": {"field": "x", "type": "quantitative", "scale": {"domain": [8, 714], "nice": false, "zero": false}, "axis": null},
           "y": {"field": "y", "type": "quantitative", "scale": {"domain": [10, 337], "reverse": true, "nice": false, "zero": false}, "axis": null},
           "detail": {"field": "s"}}},
        {"data": {"values": [{"x": 49}]}, "mark": {"type": "rule", "stroke": "#8c8c8c", "strokeWidth": 1.3},
         "encoding": {"x": {"field": "x", "type": "quantitative", "scale": {"domain": [8, 714], "nice": false, "zero": false}, "axis": null}}},
        {"data": {"name": "ldtg"}, "transform": [{"filter": "datum.k == 'n'"}],
         "mark": {"type": "text", "font": "DejaVu Serif", "fontWeight": "bold", "fontSize": 14, "fill": "#1a1a1a"},
         "encoding": {
           "x": {"field": "x", "type": "quantitative", "scale": {"domain": [8, 714], "nice": false, "zero": false}, "axis": null},
           "y": {"field": "y", "type": "quantitative", "scale": {"domain": [10, 337], "reverse": true, "nice": false, "zero": false}, "axis": null},
           "text": {"field": "t"}}},
        {"data": {"name": "ldtg"}, "transform": [{"filter": "datum.k == 't'"}],
         "mark": {"type": "text", "font": "DejaVu Serif", "fontSize": 13.5, "fill": "#222"},
         "encoding": {
           "x": {"field": "x", "type": "quantitative", "scale": {"domain": [8, 714], "nice": false, "zero": false}, "axis": null},
           "y": {"field": "y", "type": "quantitative", "scale": {"domain": [10, 337], "reverse": true, "nice": false, "zero": false}, "axis": null},
           "text": {"field": "t"}}}
      ]
    },
    {
      "width": 706, "height": 400,
      "layer": [
        {"data": {"name": "dta"}, "mark": {"type": "line", "stroke": "#5a5a5a", "strokeWidth": 0.8},
         "encoding": {
           "x": {"field": "x", "type": "quantitative", "scale": {"domain": [8, 714], "nice": false, "zero": false}, "axis": null},
           "y": {"field": "y", "type": "quantitative", "scale": {"domain": [337, 737], "reverse": true, "nice": false, "zero": false}, "axis": null},
           "detail": {"field": "s"}}},
        {"data": {"values": [{"x": 49}]}, "mark": {"type": "rule", "stroke": "#8c8c8c", "strokeWidth": 1.3},
         "encoding": {"x": {"field": "x", "type": "quantitative", "scale": {"domain": [8, 714], "nice": false, "zero": false}, "axis": null}}},
        {"data": {"name": "ldta"}, "transform": [{"filter": "datum.k == 'n'"}],
         "mark": {"type": "text", "font": "DejaVu Serif", "fontWeight": "bold", "fontSize": 14, "fill": "#1a1a1a"},
         "encoding": {
           "x": {"field": "x", "type": "quantitative", "scale": {"domain": [8, 714], "nice": false, "zero": false}, "axis": null},
           "y": {"field": "y", "type": "quantitative", "scale": {"domain": [337, 737], "reverse": true, "nice": false, "zero": false}, "axis": null},
           "text": {"field": "t"}}},
        {"data": {"name": "ldta"}, "transform": [{"filter": "datum.k == 't'"}],
         "mark": {"type": "text", "font": "DejaVu Serif", "fontSize": 13.5, "fill": "#222"},
         "encoding": {
           "x": {"field": "x", "type": "quantitative", "scale": {"domain": [8, 714], "nice": false, "zero": false}, "axis": null},
           "y": {"field": "y", "type": "quantitative", "scale": {"domain": [337, 737], "reverse": true, "nice": false, "zero": false}, "axis": null},
           "text": {"field": "t"}}}
      ]
    },
    {
      "width": 706, "height": 285,
      "layer": [
        {"data": {"values": [{"p": 10, "a": 49, "b": 714}, {"p": 20, "a": 49, "b": 714}]}, "mark": {"type": "rule", "stroke": "#8c8c8c", "strokeWidth": 1},
         "encoding": {
           "x": {"field": "a", "type": "quantitative", "scale": {"domain": [8, 714], "nice": false, "zero": false}, "axis": null},
           "x2": {"field": "b"},
           "y": {"field": "p", "type": "quantitative", "scale": {"domain": [0, 23.85], "reverse": true, "nice": false, "zero": false}, "axis": null}}},
        {"data": {"name": "tg"}, "mark": {"type": "line", "stroke": "#4a4a4a", "strokeWidth": 0.8},
         "encoding": {
           "x": {"field": "x", "type": "quantitative", "scale": {"domain": [8, 714], "nice": false, "zero": false}, "axis": null},
           "y": {"field": "p", "type": "quantitative", "scale": {"domain": [0, 23.85], "reverse": true, "nice": false, "zero": false}, "axis": null},
           "detail": {"field": "s"}}},
        {"data": {"values": [{"x": 49}]}, "mark": {"type": "rule", "stroke": "#8c8c8c", "strokeWidth": 1.3},
         "encoding": {"x": {"field": "x", "type": "quantitative", "scale": {"domain": [8, 714], "nice": false, "zero": false}, "axis": null}}},
        {"data": {"name": "ltg"},
         "mark": {"type": "text", "font": "DejaVu Serif", "fontSize": 13.5, "fill": "#222"},
         "encoding": {
           "x": {"field": "x", "type": "quantitative", "scale": {"domain": [8, 714], "nice": false, "zero": false}, "axis": null},
           "y": {"field": "p", "type": "quantitative", "scale": {"domain": [0, 23.85], "reverse": true, "nice": false, "zero": false}, "axis": null},
           "text": {"field": "t"}}},
        {"data": {"values": [{"t": "Витрати маси, мас %", "x": 33, "p": 11.1}]},
         "mark": {"type": "text", "font": "Liberation Sans Narrow, DejaVu Sans Condensed, sans-serif", "fontSize": 13, "angle": 270, "fill": "#222"},
         "encoding": {
           "x": {"field": "x", "type": "quantitative", "scale": {"domain": [8, 714], "nice": false, "zero": false}, "axis": null},
           "y": {"field": "p", "type": "quantitative", "scale": {"domain": [0, 23.85], "reverse": true, "nice": false, "zero": false}, "axis": null},
           "text": {"field": "t"}}}
      ]
    }
  ]
}
